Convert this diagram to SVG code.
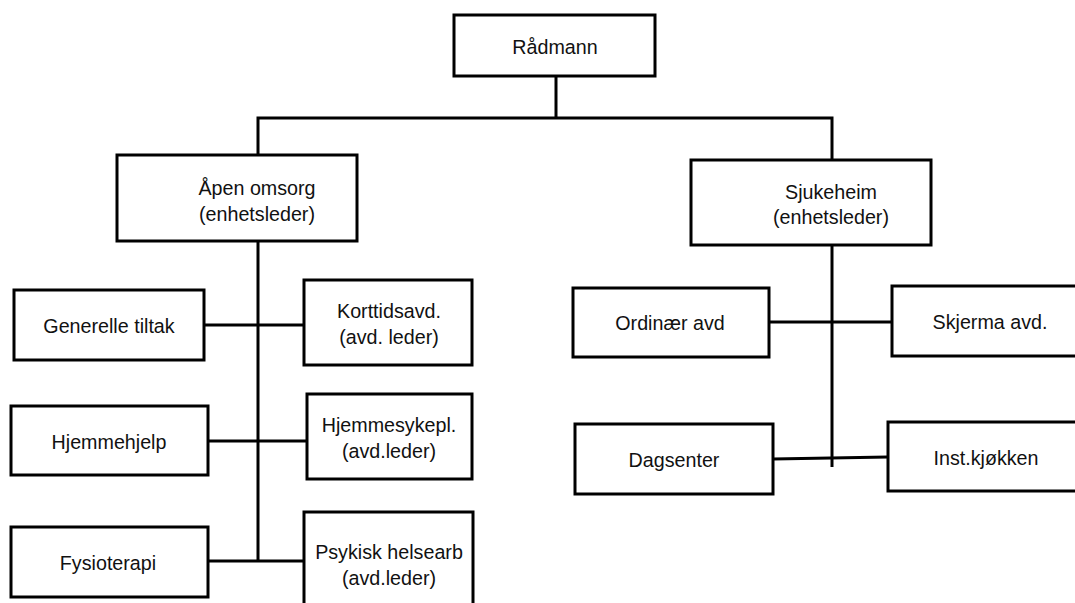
<svg xmlns="http://www.w3.org/2000/svg" width="1075" height="603" viewBox="0 0 1075 603">
<style>
.box{fill:#fff;stroke:#000;stroke-width:3}
.ln{fill:none;stroke:#000;stroke-width:3}
text{font-family:"Liberation Sans",Arial,sans-serif;font-size:19.7px;fill:#111;text-anchor:middle}
</style>
<rect width="1075" height="603" fill="#fff"/>
<g id="connectors">
<polyline class="ln" points="556,76 556,118"/>
<polyline class="ln" points="258,155 258,118 832,118 832,160"/>
<polyline class="ln" points="258,241 258,561"/>
<polyline class="ln" points="832,245 832,467"/>
<line class="ln" x1="204" y1="325" x2="304" y2="325"/>
<line class="ln" x1="208" y1="441" x2="307" y2="441"/>
<line class="ln" x1="208" y1="561" x2="304" y2="561"/>
<line class="ln" x1="769" y1="322" x2="892" y2="322"/>
<line class="ln" x1="773" y1="459" x2="888" y2="457"/>
</g>
<g id="radmann"><rect class="box" x="454" y="15" width="201" height="61"/><text x="555" y="54">Rådmann</text></g>
<g id="apen-omsorg"><rect class="box" x="117" y="155" width="240" height="86"/><text x="257" y="195">Åpen omsorg</text><text x="257" y="221">(enhetsleder)</text></g>
<g id="sjukeheim"><rect class="box" x="691" y="160" width="240" height="85"/><text x="831" y="199">Sjukeheim</text><text x="831" y="224">(enhetsleder)</text></g>
<g id="generelle-tiltak"><rect class="box" x="14" y="290" width="190" height="70"/><text x="109" y="333">Generelle tiltak</text></g>
<g id="korttidsavd"><rect class="box" x="304" y="280" width="168" height="85"/><text x="389" y="318">Korttidsavd.</text><text x="389" y="344">(avd. leder)</text></g>
<g id="hjemmehjelp"><rect class="box" x="11" y="406" width="197" height="69"/><text x="109" y="449">Hjemmehjelp</text></g>
<g id="hjemmesykepl"><rect class="box" x="307" y="394" width="165" height="85"/><text x="389" y="432">Hjemmesykepl.</text><text x="389" y="458">(avd.leder)</text></g>
<g id="fysioterapi"><rect class="box" x="11" y="527" width="197" height="70"/><text x="108" y="570">Fysioterapi</text></g>
<g id="psykisk"><rect class="box" x="304" y="512" width="169" height="100"/><text x="389" y="559">Psykisk helsearb</text><text x="389" y="585">(avd.leder)</text></g>
<g id="ordinaer-avd"><rect class="box" x="573" y="288" width="196" height="69"/><text x="670" y="330">Ordinær avd</text></g>
<g id="skjerma-avd"><rect class="box" x="892" y="286" width="190" height="70"/><text x="990" y="329">Skjerma avd.</text></g>
<g id="dagsenter"><rect class="box" x="575" y="424" width="198" height="70"/><text x="674" y="467">Dagsenter</text></g>
<g id="inst-kjokken"><rect class="box" x="888" y="422" width="194" height="69"/><text x="986" y="465">Inst.kjøkken</text></g>
</svg>
